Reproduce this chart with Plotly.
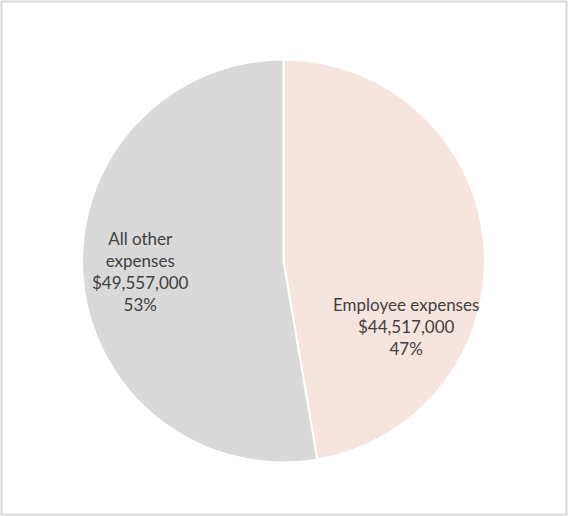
import plotly.graph_objects as go

categories = ["Employee expenses", "All other expenses"]
display_labels = ["Employee expenses", "All other<br>expenses"]
values = [44517000, 49557000]
colors = ["#F6E5DE", "#D9D9D9"]

total = sum(values)
percents = [round(v / total * 100) for v in values]
texts = [f"{lab}<br>${v:,}<br>{p}%" for lab, v, p in zip(display_labels, values, percents)]

W, H = 568, 516
cx, cy, r = 283.5, 261.0, 201.5

fig = go.Figure(go.Pie(
    labels=categories,
    values=values,
    sort=False,
    direction="clockwise",
    rotation=0,
    marker=dict(colors=colors, line=dict(color="#FFFFFF", width=2)),
    textinfo="none",
    hoverinfo="skip",
    showlegend=False,
    domain=dict(x=[(cx - r) / W, (cx + r) / W], y=[1 - (cy + r) / H, 1 - (cy - r) / H]),
))

label_pos = [(405.5, 326.0), (140.0, 271.0)]
for t, (px, py) in zip(texts, label_pos):
    fig.add_annotation(
        x=px / W, y=1 - py / H, xref="paper", yref="paper",
        text=t, showarrow=False, align="center",
        xanchor="center", yanchor="middle",
        font=dict(family="Lato, 'Open Sans', sans-serif", size=17, color="#404040"),
    )

fig.add_shape(type="rect", xref="paper", yref="paper",
              x0=1.5 / W, x1=1 - 1.5 / W, y0=1.5 / H, y1=1 - 1.5 / H,
              line=dict(color="#D9D9D9", width=2), fillcolor="rgba(0,0,0,0)")

fig.update_layout(
    width=W, height=H,
    margin=dict(l=0, r=0, t=0, b=0),
    paper_bgcolor="#FFFFFF",
    plot_bgcolor="#FFFFFF",
)

fig.write_html("out.html",
               config={"displayModeBar": False},
               post_script="document.body.style.margin='0';document.body.style.overflow='hidden';")
